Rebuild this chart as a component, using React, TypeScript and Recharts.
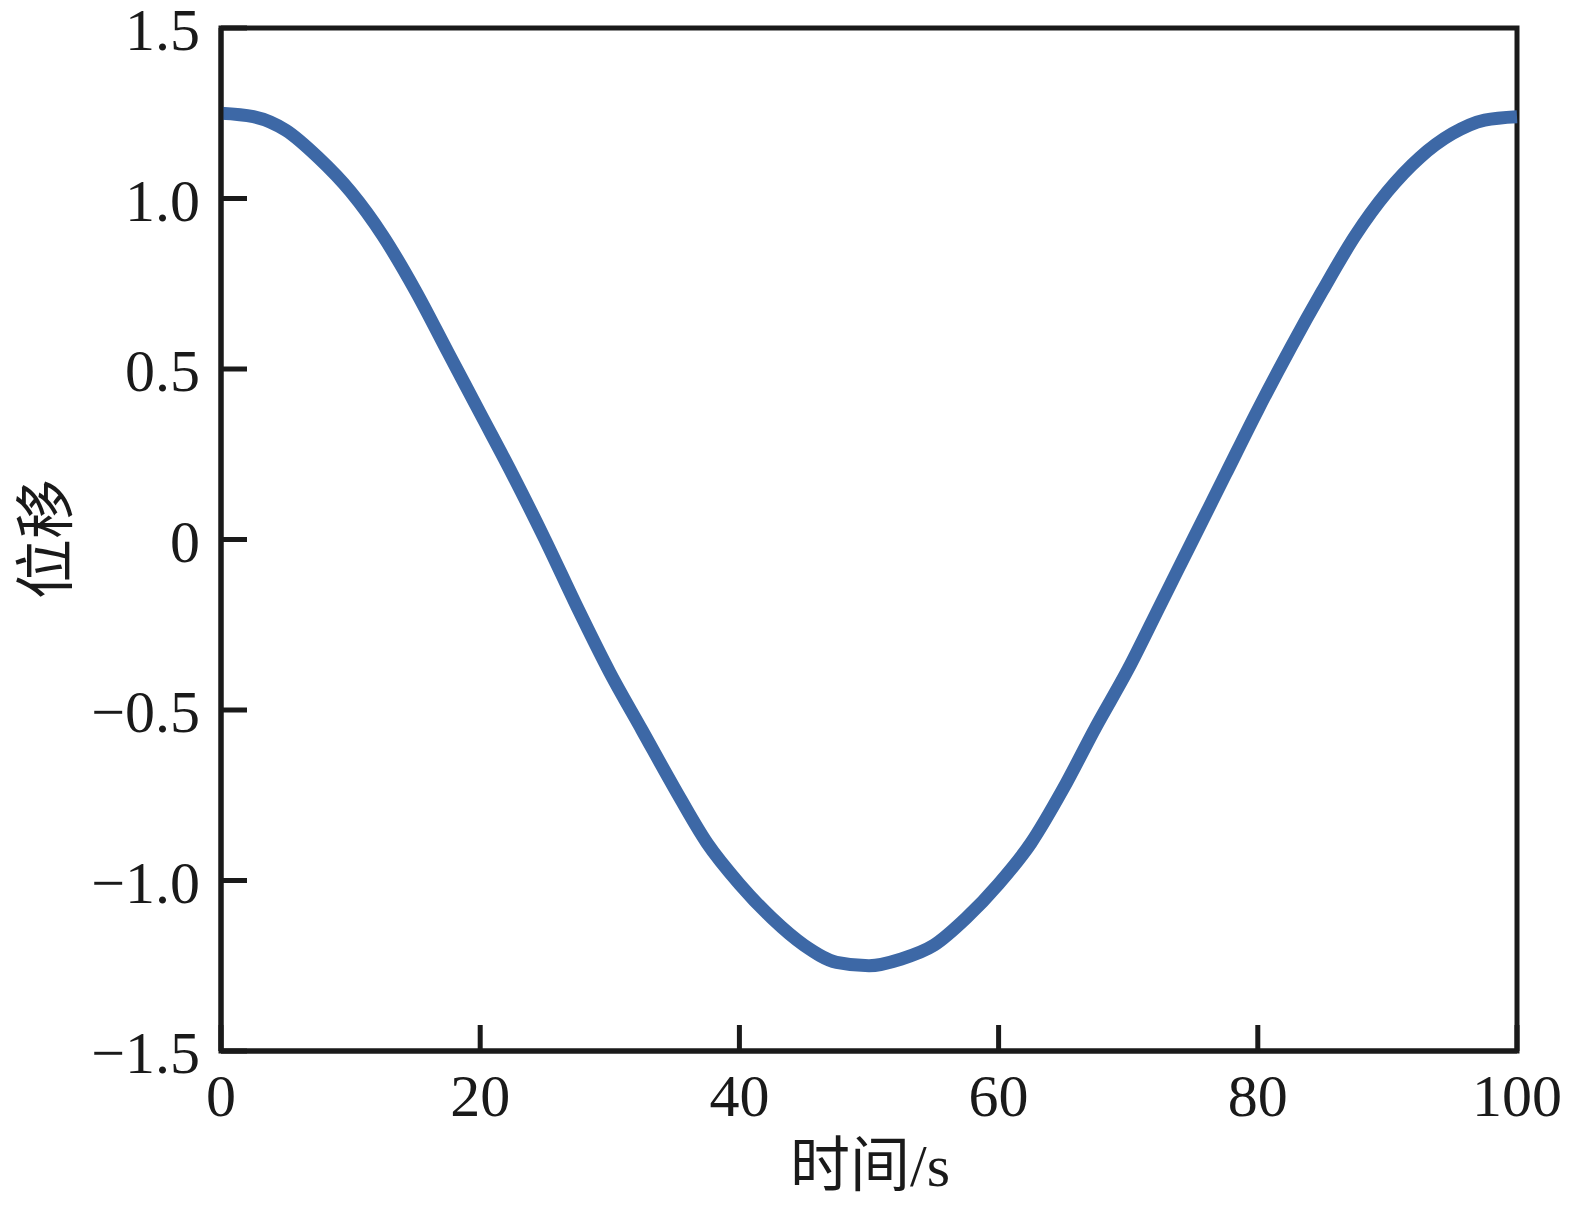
import React from 'react';
import { LineChart, Line, XAxis, YAxis, ReferenceArea } from 'recharts';

// time (s) and displacement
const timeS = [
  0, 2.5, 5, 7.5, 10, 12.5, 15, 17.5, 20, 22.5, 25, 27.5, 30, 32.5, 35, 37.5, 40, 42.5, 45, 47.5,
  50, 52.5, 55, 57.5, 60, 62.5, 65, 67.5, 70, 72.5, 75, 77.5, 80, 82.5, 85, 87.5, 90, 92.5, 95, 97.5, 100,
];
const displacement = [
  1.25, 1.24, 1.2, 1.12, 1.02, 0.89, 0.73, 0.55, 0.37, 0.19, 0.0, -0.2, -0.39, -0.56, -0.73, -0.89, -1.01, -1.11, -1.19, -1.24,
  -1.25, -1.23, -1.19, -1.11, -1.01, -0.89, -0.73, -0.55, -0.38, -0.19, 0.0, 0.19, 0.38, 0.56, 0.73, 0.89, 1.02, 1.12, 1.19, 1.23, 1.24,
];

const xTicks = [0, 20, 40, 60, 80, 100];
const yTicks = [-1.5, -1, -0.5, 0, 0.5, 1, 1.5];
const yTickLabels = ['\u22121.5', '\u22121.0', '\u22120.5', '0', '0.5', '1.0', '1.5'];

const data = timeS.map((t, i) => ({ t, v: displacement[i] }));

const serif = '"Liberation Serif", "Times New Roman", "Noto Sans CJK SC", serif';
const ink = '#1a1a1a';
const tickLen = 26;
const fontSize = 60;

const XTick = (props: any) => {
  const { x, y, payload } = props;
  return (
    <g>
      <line x1={x} x2={x} y1={y} y2={y - tickLen} stroke={ink} strokeWidth={5} />
      <text x={x} y={y + 65} textAnchor="middle" fontFamily={serif} fontSize={fontSize} fill={ink}>
        {payload.value}
      </text>
    </g>
  );
};

const YTick = (props: any) => {
  const { x, y, payload } = props;
  const idx = yTicks.indexOf(payload.value);
  const label = idx >= 0 ? yTickLabels[idx] : String(payload.value);
  return (
    <g>
      <line x1={x} x2={x + tickLen} y1={y} y2={y} stroke={ink} strokeWidth={5} />
      <text x={x - 21} y={y + 22} textAnchor="end" fontFamily={serif} fontSize={fontSize} fill={ink}>
        {label}
      </text>
    </g>
  );
};

const App: React.FC = () => {
  return (
    <div
      style={{
        position: 'absolute',
        left: 0,
        top: 0,
        width: 1581,
        height: 1206,
        background: '#fff',
        overflow: 'hidden',
      }}
    >
      <LineChart width={1581} height={1206} data={data} margin={{ top: 28, right: 64, left: 101, bottom: 95 }}>
        <XAxis
          dataKey="t"
          type="number"
          domain={[0, 100]}
          ticks={xTicks}
          height={60}
          tickSize={0}
          tickMargin={0}
          tickLine={false}
          axisLine={{ stroke: ink, strokeWidth: 5 }}
          tick={<XTick />}
          interval={0}
        />
        <YAxis
          type="number"
          domain={[-1.5, 1.5]}
          ticks={yTicks}
          width={120}
          tickSize={0}
          tickMargin={0}
          tickLine={false}
          axisLine={{ stroke: ink, strokeWidth: 5 }}
          tick={<YTick />}
          interval={0}
        />
        <ReferenceArea
          x1={0}
          x2={100}
          y1={-1.5}
          y2={1.5}
          fill="none"
          fillOpacity={0}
          stroke={ink}
          strokeWidth={5}
          ifOverflow="visible"
        />
        <Line
          type="monotone"
          dataKey="v"
          stroke="#3d68a6"
          strokeWidth={13}
          strokeLinejoin="round"
          dot={false}
          isAnimationActive={false}
        />
      </LineChart>
      <svg
        width={1581}
        height={1206}
        style={{ position: 'absolute', left: 0, top: 0, pointerEvents: 'none' }}
      >
        <text x={870} y={1186} textAnchor="middle" fontFamily={serif} fontSize={fontSize} fill={ink}>
          时间/s
        </text>
        <text
          x={0}
          y={0}
          transform="translate(67 539) rotate(-90)"
          textAnchor="middle"
          fontFamily={serif}
          fontSize={fontSize}
          fill={ink}
        >
          位移
        </text>
      </svg>
    </div>
  );
};

export default App;
